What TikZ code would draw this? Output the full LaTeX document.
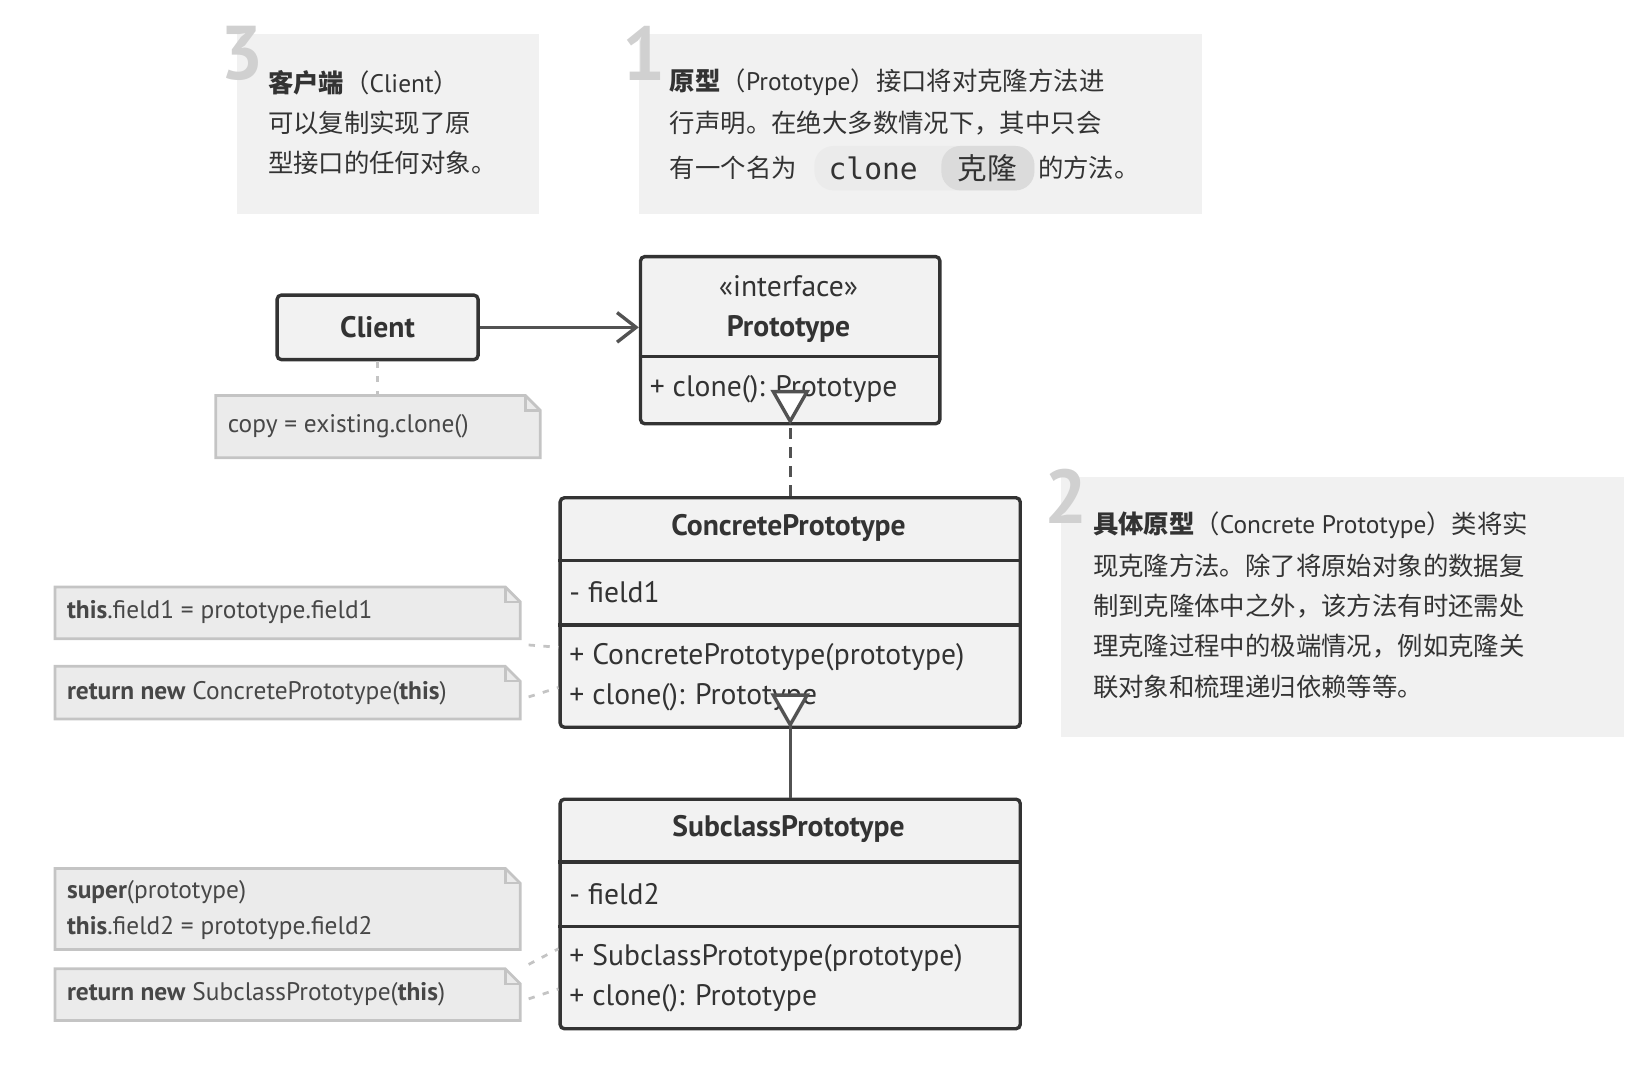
\documentclass[tikz,border=0pt]{standalone}
\usepackage{fontspec}
\setmainfont{PT Sans}
\newfontfamily\cjk{Noto Sans CJK SC}
\newfontfamily\monof{DejaVu Sans Mono}
\newcommand{\cjkb}{\bfseries}
\usetikzlibrary{arrows.meta,calc}
\definecolor{ink}{HTML}{333333}
\definecolor{boxbg}{HTML}{F2F2F2}
\definecolor{notebg}{HTML}{EBEBEB}
\definecolor{noteln}{HTML}{C4C4C4}
\definecolor{panel}{HTML}{F1F1F1}
\definecolor{bignum}{HTML}{D0D0D0}
\tikzset{
 clsbox/.style={draw=ink,line width=1.6pt,fill=boxbg,rounded corners=2pt,inner sep=0pt},
 sep/.style={draw=ink,line width=1.6pt},
 ctext/.style={text=ink,font=\fontsize{14}{16}\selectfont,inner sep=0pt},
 ltext/.style={ctext,anchor=west},
 notetext/.style={text=ink!90,font=\fontsize{12}{17}\selectfont,inner sep=0pt,anchor=west,align=left},
 nbox/.style={inner sep=0pt},
 notefill/.style={fill=notebg,draw=noteln,line width=1.3pt},
 dotl/.style={draw=noteln,line width=1.3pt,dash pattern=on 3pt off 4pt},
 panelbox/.style={fill=panel,inner sep=0pt},
 num/.style={text=bignum,font=\fontsize{36}{36}\selectfont\bfseries,inner sep=0pt,anchor=north west},
 cn/.style={text=ink,font=\cjk\fontsize{12}{19}\selectfont,inner sep=0pt,anchor=west}
}
\newcommand{\mknote}[5]{%
 \node[nbox,minimum width=#4pt,minimum height=#5pt,anchor=north west] (#1) at (#2,#3) {};
 \draw[notefill] (#1.south west) -- (#1.north west) -- ($(#1.north east)+(-7pt,0)$) -- ($(#1.north east)+(0,-7pt)$) -- (#1.south east) -- cycle;
 \draw[draw=noteln,line width=1.1pt] ($(#1.north east)+(-7pt,0)$) -- ($(#1.north east)+(-7pt,-7pt)$) -- ($(#1.north east)+(0,-7pt)$);
}
\begin{document}
\begin{tikzpicture}[x=0.5pt,y=-0.5pt]
\useasboundingbox (0,0) rectangle (1560,1013);
% panels
\node[panelbox,minimum width=142.5pt,minimum height=85pt,anchor=north west] (p3) at (224,32) {};
\node[panelbox,minimum width=266pt,minimum height=85pt,anchor=north west] (p1) at (604,32) {};
\node[panelbox,minimum width=266pt,minimum height=122.5pt,anchor=north west] (p2) at (1003,451) {};
\node[num] (n3) at (208,24) {3};
\node[num] (n1) at (588,24) {1};
\node[num] (n2) at (987,443) {2};
\node[cn] (t3a) at (253,78) {{\cjkb 客户端}（\fontspec{PT Sans}Client\cjk）};
\node[cn] (t3b) at (253,116) {可以复制实现了原};
\node[cn] (t3c) at (253,154) {型接口的任何对象。};
\node[cn] (t1a) at (633,78) {{\cjkb 原型}（\fontspec{PT Sans}Prototype\cjk）接口将对克隆方法进};
\node[cn] (t1b) at (633,116) {行声明。在绝大多数情况下，其中只会};
\fill[fill=notebg,rounded corners=9pt] (770,138) rectangle (978,180);
\fill[fill=black!14,rounded corners=9pt] (890,138) rectangle (978,180);
\node[cn] (t1c) at (633,159) {有一个名为};
\node[ctext,anchor=west] (cl) at (783,159) {\monof\fontsize{14}{16}\selectfont clone};
\node[cn,font=\cjk\fontsize{14}{16}\selectfont] (kl) at (905,159) {克隆};
\node[cn] (t1d) at (981,159) {的方法。};
\node[cn] (t2a) at (1033,497) {{\cjkb 具体原型}（\fontspec{PT Sans}Concrete Prototype\cjk）类将实};
\node[cn] (t2b) at (1033,535) {现克隆方法。除了将原始对象的数据复};
\node[cn] (t2c) at (1033,573) {制到克隆体中之外，该方法有时还需处};
\node[cn] (t2d) at (1033,611) {理克隆过程中的极端情况，例如克隆关};
\node[cn] (t2e) at (1033,649) {联对象和梳理递归依赖等等。};
% client
\node[clsbox,minimum width=95pt,minimum height=30.5pt] (client) at (357,309.5) {};
\node[ctext,font=\fontsize{14}{16}\selectfont\bfseries] (clientt) at (357,309) {Client};
% prototype
\node[clsbox,minimum width=141.5pt,minimum height=79pt,anchor=north west] (proto) at (604,241) {};
\draw[sep] (604,337) -- (887,337);
\node[ctext] (pst) at (745.5,271) {«interface»};
\node[ctext,font=\fontsize{14}{16}\selectfont\bfseries] (pname) at (745.5,311) {Prototype};
\node[ltext] (pm) at (614,368) {+ clone(): Prototype};
% concrete
\node[clsbox,minimum width=217.5pt,minimum height=108.5pt,anchor=north west] (cp) at (528,469) {};
\draw[sep] (528,530) -- (963,530);
\draw[sep] (528,591) -- (963,591);
\node[ctext,font=\fontsize{14}{16}\selectfont\bfseries] (cpn) at (745.5,499) {ConcretePrototype};
\node[ltext] (cpf) at (538,560) {- field1};
\node[ltext] (cpm1) at (538,621) {+ ConcretePrototype(prototype)};
\node[ltext] (cpm2) at (538,659) {+ clone(): Prototype};
% subclass
\node[clsbox,minimum width=217.5pt,minimum height=108.5pt,anchor=north west] (sp) at (528,754) {};
\draw[sep] (528,815) -- (963,815);
\draw[sep] (528,876) -- (963,876);
\node[ctext,font=\fontsize{14}{16}\selectfont\bfseries] (spn) at (745.5,784) {SubclassPrototype};
\node[ltext] (spf) at (538,845) {- field2};
\node[ltext] (spm1) at (538,906) {+ SubclassPrototype(prototype)};
\node[ltext] (spm2) at (538,944) {+ clone(): Prototype};
% connectors
\draw[ink!85,line width=1.6pt,-{Straight Barb[length=9pt,width=14pt,line width=1.6pt]}] (client.east) -- (proto.west |- client.east);
\draw[ink!85,line width=1.6pt,dashed,dash pattern=on 5pt off 4pt] (cp.north) -- ($(proto.south)+(0,16pt)$);
\draw[ink!85,line width=1.6pt,fill=white,line join=miter] ($(proto.south)+(0,2pt)$) -- ++(8pt,14pt) -- ++(-16pt,0) -- cycle;
\draw[ink!85,line width=1.6pt] (sp.north) -- ($(cp.south)+(0,16pt)$);
\draw[ink!85,line width=1.6pt,fill=white,line join=miter] ($(cp.south)+(0,2pt)$) -- ++(8pt,14pt) -- ++(-16pt,0) -- cycle;
% notes
\mknote{nc}{204}{374}{153}{29}
\node[notetext] (nct) at (215,403) {copy = existing.clone()};
\draw[dotl] (client.south) -- (nc.north -| client.south);
\mknote{na}{52}{555}{219.5}{24}
\node[notetext] (nat) at (63,579) {\textbf{this}.field1 = prototype.field1};
\mknote{nb}{52}{630}{219.5}{24.5}
\node[notetext] (nbt) at (63,655) {\textbf{return new} ConcretePrototype(\textbf{this})};
\mknote{nd}{52}{821}{219.5}{38}
\node[notetext] (ndt) at (63,860) {\textbf{super}(prototype)\\\textbf{this}.field2 = prototype.field2};
\mknote{ne}{52}{916}{219.5}{24}
\node[notetext] (net) at (63,940) {\textbf{return new} SubclassPrototype(\textbf{this})};
\coordinate (a1) at (528,612);
\coordinate (a2) at (528,650);
\coordinate (a3) at (528,897);
\coordinate (a4) at (528,935);
\draw[dotl] ($(na.south east)+(4pt,-3pt)$) -- (a1);
\draw[dotl] ($(nb.east)+(4pt,-2pt)$) -- (a2);
\draw[dotl] ($(nd.south east)+(4pt,-7pt)$) -- (a3);
\draw[dotl] ($(ne.east)+(4pt,-2pt)$) -- (a4);
\end{tikzpicture}
\end{document}
